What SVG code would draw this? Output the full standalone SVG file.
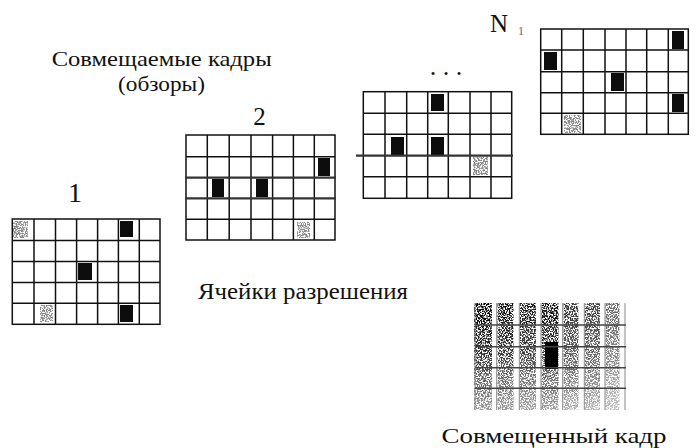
<svg xmlns="http://www.w3.org/2000/svg" width="696" height="448" viewBox="0 0 696 448">
<style>
.t{font-family:"Liberation Serif","DejaVu Serif","Times New Roman",serif;fill:#111}
.grid{fill:none;stroke:#111;stroke-width:1.5}
.mark{fill:#0a0a0a;filter:url(#soft)}
.light{fill:#8a8a8a;filter:url(#grain)}
.hl{fill:none;stroke:#444;stroke-width:1.6}
.vl{fill:none;stroke:#888;stroke-width:1}
</style>
<defs>
<filter id="soft" x="-30%" y="-30%" width="160%" height="160%"><feGaussianBlur stdDeviation="0.7"/></filter>
<filter id="grain" x="0" y="0" width="1" height="1">
<feTurbulence type="fractalNoise" baseFrequency="0.75" numOctaves="2" seed="7" result="n"/>
<feColorMatrix in="n" type="matrix" values="0 0 0 0 0 0 0 0 0 0 0 0 0 0 0 8 0 0 0 -3.4" result="m"/>
<feComposite in="SourceGraphic" in2="m" operator="in"/>
</filter>
<linearGradient id="fade" x1="0" y1="0" x2="0" y2="1">
<stop offset="0" stop-color="#000" stop-opacity="1"/>
<stop offset="0.45" stop-color="#111" stop-opacity="0.9"/>
<stop offset="1" stop-color="#444" stop-opacity="0.55"/>
</linearGradient>
</defs>
<rect width="696" height="448" fill="#fff"/>

<g id="labels">
<text class="t" x="161.7" y="66" font-size="21" text-anchor="middle" textLength="220" lengthAdjust="spacingAndGlyphs">Совмещаемые кадры</text>
<text class="t" x="161.5" y="91" font-size="21" text-anchor="middle" textLength="87" lengthAdjust="spacingAndGlyphs">(обзоры)</text>
<text class="t" x="303" y="299" font-size="23" text-anchor="middle" textLength="210" lengthAdjust="spacingAndGlyphs">Ячейки разрешения</text>
<text class="t" x="554" y="443" font-size="22" text-anchor="middle" textLength="225" lengthAdjust="spacingAndGlyphs">Совмещенный кадр</text>
</g>

<g id="frame1">
<text class="t" x="75" y="202" font-size="28" text-anchor="middle">1</text>
<rect class="light" x="13" y="221" width="15" height="17"/>
<rect class="light" x="40" y="305" width="13" height="17"/>
<rect class="mark" x="120" y="221" width="13" height="16"/>
<rect class="mark" x="78" y="263" width="14" height="17"/>
<rect class="mark" x="120" y="305" width="13" height="17"/>
<rect class="grid" x="12.3" y="219" width="147.7" height="105.3"/>
<path class="grid" d="M34 219V324.3M55.5 219V324.3M76.6 219V324.3M97.6 219V324.3M118.4 219V324.3M139.3 219V324.3M12.3 240.5H160M12.3 261.5H160M12.3 282.5H160M12.3 303.3H160"/>
</g>

<g id="frame2">
<text class="t" x="259.5" y="125" font-size="25" text-anchor="middle">2</text>
<rect class="light" x="297" y="222" width="13" height="16"/>
<rect class="mark" x="318" y="158" width="12" height="18"/>
<rect class="mark" x="212" y="179" width="12" height="18"/>
<rect class="mark" x="256" y="179" width="12" height="18"/>
<rect class="grid" x="186" y="135" width="149" height="105"/>
<path class="grid" d="M207.3 135V240M229.2 135V240M251 135V240M272.6 135V240M293.4 135V240M314.3 135V240M186 156.7H335M186 219.3H335"/>
<path fill="none" stroke="#333" stroke-width="2.2" d="M185 177.7H336M185 198.3H336"/>
</g>

<g id="frame3">
<text class="t" x="429.8" y="74.5" font-size="26" letter-spacing="6.5">...</text>
<rect class="light" x="473" y="157" width="15" height="18"/>
<rect class="mark" x="431" y="94" width="13" height="17"/>
<rect class="mark" x="391" y="137" width="13" height="18"/>
<rect class="mark" x="431" y="137" width="13" height="18"/>
<rect class="grid" x="363.3" y="91.7" width="148.4" height="106.6"/>
<path class="grid" d="M385 91.7V198.3M406.7 91.7V198.3M427.7 91.7V198.3M448.3 91.7V198.3M470 91.7V198.3M491 91.7V198.3M363.3 113.3H511.7M363.3 134.3H511.7M363.3 176.7H511.7"/>
<path fill="none" stroke="#333" stroke-width="2.2" d="M356 155.7H513"/>
</g>

<g id="frameN">
<text class="t" x="490" y="32" font-size="25">N</text>
<text x="521" y="35" font-size="12" text-anchor="middle" fill="#666" font-family="Liberation Serif, serif">1</text>
<rect class="light" x="564" y="115" width="17" height="18"/>
<rect class="mark" x="672" y="31" width="12" height="18"/>
<rect class="mark" x="544" y="52" width="13" height="18"/>
<rect class="mark" x="611" y="73" width="13" height="18"/>
<rect class="mark" x="672" y="94" width="12" height="18"/>
<rect class="grid" x="540.7" y="29" width="147.6" height="105.3"/>
<path class="grid" d="M561.7 29V134.3M583.3 29V134.3M605 29V134.3M626 29V134.3M646.7 29V134.3M668.3 29V134.3M540.7 50H688.3M540.7 71.7H688.3M540.7 92.7H688.3M540.7 113.3H688.3"/>
</g>

<g id="combined">
<g filter="url(#grain)">
<rect x="474" y="303" width="18" height="107" fill="url(#fade)"/>
<rect x="497.5" y="303" width="16" height="107" fill="url(#fade)" opacity="0.95"/>
<rect x="520" y="303" width="16" height="107" fill="url(#fade)" opacity="0.9"/>
<rect x="541.5" y="303" width="17" height="107" fill="url(#fade)" opacity="0.95"/>
<rect x="563.5" y="303" width="15" height="107" fill="url(#fade)" opacity="0.8"/>
<rect x="585" y="303" width="15" height="107" fill="url(#fade)" opacity="0.75"/>
<rect x="605.5" y="303" width="14" height="107" fill="url(#fade)" opacity="0.6"/>
</g>
<rect x="545" y="342" width="13" height="27" fill="#000" filter="url(#soft)"/>
<path class="vl" d="M475 303V410M496.7 303V410M519.3 303V410M541 303V410M562.7 303V410M584.3 303V410M605 303V410M625 303V410"/>
<path class="hl" d="M475 325H626M475 346.7H626M475 367.7H626M475 388.3H626"/>
</g>
</svg>
